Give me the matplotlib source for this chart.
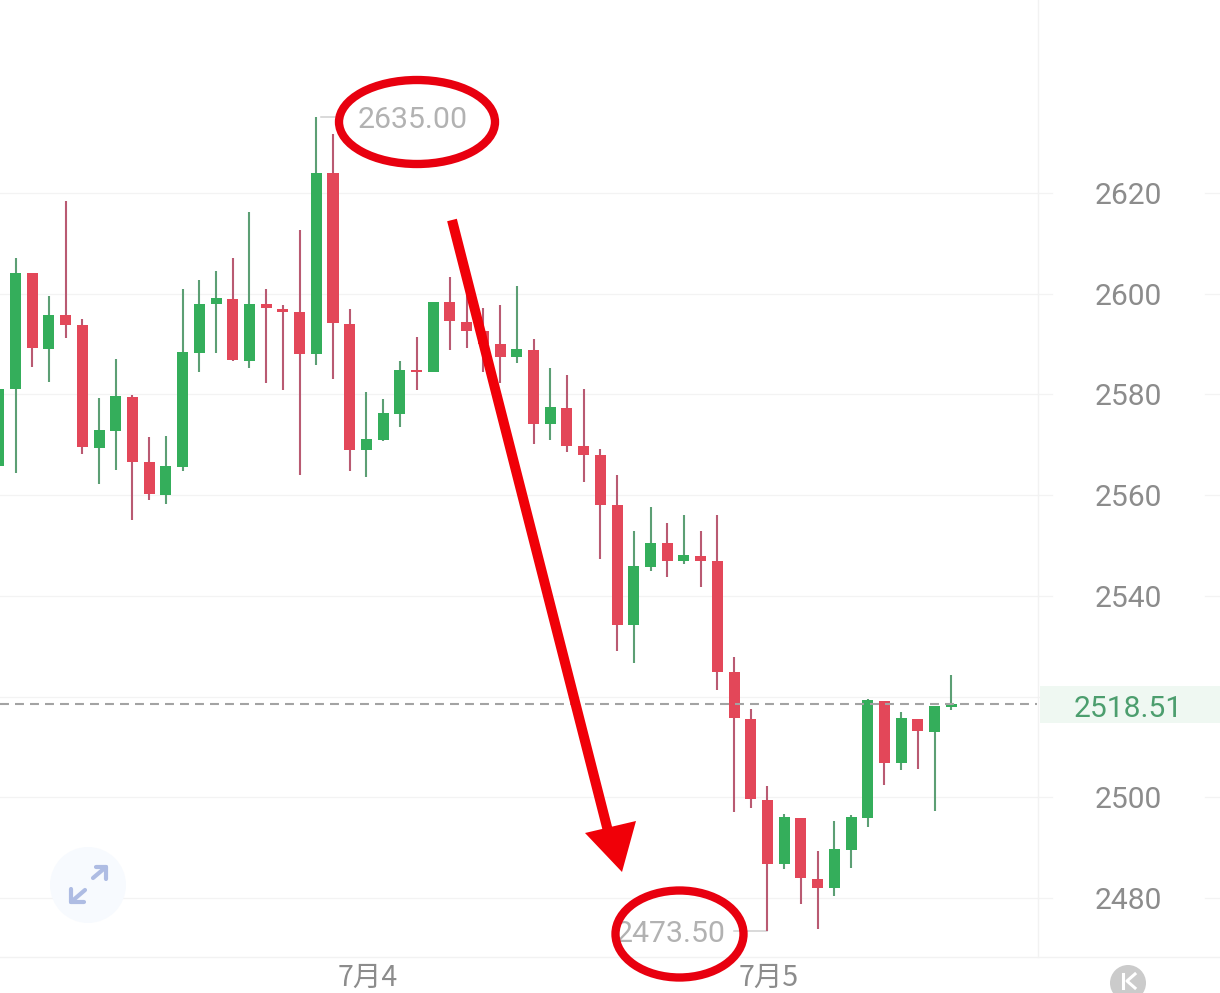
import matplotlib
matplotlib.use("Agg")
import matplotlib.pyplot as plt
from matplotlib.patches import Ellipse, Polygon, Circle, Rectangle

# candles, left to right (green = close above open)
opens = [2565.8, 2581.1, 2604.1, 2589.1, 2595.8, 2593.8, 2569.4, 2572.8, 2579.5, 2566.5,
         2560.1, 2565.6, 2588.2, 2598.0, 2599.0, 2586.7, 2598.0, 2597.0, 2596.3, 2588.0,
         2623.9, 2594.0, 2568.9, 2570.9, 2576.2, 2584.6, 2584.4, 2598.4, 2594.4, 2592.5,
         2590.0, 2587.4, 2588.9, 2574.1, 2577.4, 2569.8, 2568.0, 2558.0, 2534.2, 2545.8,
         2550.4, 2546.9, 2548.0, 2546.9, 2524.9, 2515.6, 2499.4, 2486.7, 2495.9, 2483.8,
         2481.9, 2489.6, 2495.9, 2519.2, 2506.8, 2515.5, 2513.0, 2518.0]
highs = [2581.1, 2607.1, 2604.1, 2599.5, 2618.4, 2595.0, 2579.3, 2587.0, 2579.9, 2571.5,
         2571.7, 2600.9, 2602.7, 2604.5, 2607.0, 2616.3, 2600.9, 2597.7, 2612.7, 2635.0,
         2631.7, 2597.0, 2580.5, 2579.1, 2586.6, 2591.5, 2598.4, 2603.3, 2600.5, 2597.1,
         2597.7, 2601.5, 2591.0, 2585.2, 2583.9, 2581.0, 2569.2, 2564.0, 2552.8, 2557.6,
         2554.4, 2556.0, 2552.9, 2556.1, 2527.8, 2517.6, 2502.3, 2496.7, 2495.9, 2489.4,
         2495.2, 2496.4, 2519.5, 2519.2, 2517.0, 2515.5, 2518.2, 2524.2]
lows = [2565.8, 2564.4, 2585.4, 2582.5, 2591.2, 2568.2, 2562.2, 2565.0, 2555.1, 2559.0,
        2558.2, 2564.8, 2584.5, 2588.2, 2586.6, 2585.2, 2582.2, 2580.8, 2563.9, 2585.8,
        2583.1, 2564.7, 2563.7, 2570.7, 2573.6, 2580.9, 2584.4, 2588.8, 2589.3, 2584.5,
        2582.3, 2586.2, 2570.1, 2571.0, 2568.6, 2562.7, 2547.3, 2529.0, 2526.7, 2544.9,
        2543.8, 2546.3, 2541.8, 2521.3, 2497.1, 2497.9, 2473.5, 2485.7, 2478.9, 2473.8,
        2480.4, 2486.0, 2494.1, 2502.5, 2505.5, 2505.6, 2497.3, 2517.3]
closes = [2581.1, 2604.2, 2589.2, 2595.8, 2593.8, 2569.5, 2572.9, 2579.6, 2566.6, 2560.2,
          2565.7, 2588.4, 2598.0, 2599.1, 2586.8, 2598.0, 2597.1, 2596.3, 2588.1, 2624.0,
          2594.1, 2569.0, 2571.1, 2576.3, 2584.8, 2584.5, 2598.4, 2594.5, 2592.5, 2590.0,
          2587.4, 2589.0, 2574.2, 2577.5, 2569.8, 2568.0, 2558.0, 2534.3, 2545.9, 2550.5,
          2547.0, 2548.1, 2546.9, 2524.9, 2515.7, 2499.6, 2486.7, 2496.1, 2483.9, 2482.0,
          2489.7, 2496.1, 2519.3, 2506.9, 2515.7, 2513.2, 2518.1, 2518.51]

price_ticks = [2480, 2500, 2520, 2540, 2560, 2580, 2600, 2620]
price_labels = ["2480", "2500", "", "2540", "2560", "2580", "2600", "2620"]
date_pos = [22.05, 46.05]
date_labels = ["7月4", "7月5"]
last_price = 2518.51
high_price = 2635.00
low_price = 2473.50

GREEN = "#34ae5b"
RED = "#e34759"
GREEN_WICK = "#5c9f74"
RED_WICK = "#b95a72"
FONT = ["Roboto", "Noto Sans CJK SC", "DejaVu Sans"]

fig = plt.figure(figsize=(12.2, 9.93), dpi=100)
ax = fig.add_axes([0, 0, 1, 1])
ax.set_xlim(0.072, 73.08)
ax.set_ylim(2461.14, 2658.32)
ax.axis("off")

# overlay in picture pixels for the hand drawn marks and app furniture
px = fig.add_axes([0, 0, 1, 1], facecolor="none")
px.set_xlim(0, 1220)
px.set_ylim(993, 0)
px.axis("off")

# grid and frame
for p in price_ticks:
    ax.plot([0.072, 63.0], [p, p], color="#f3f3f3", lw=0.9, zorder=1)
    ax.plot([72.2, 73.08], [p, p], color="#f3f3f3", lw=0.9, zorder=1)
px.plot([1037.5, 1037.5], [0, 957], color="#f2f2f2", lw=1.0, zorder=1)
px.plot([0, 1220], [957, 957], color="#f2f2f2", lw=1.0, zorder=1)

# candles
for i in range(len(opens)):
    up = closes[i] >= opens[i]
    ax.vlines(i, lows[i], highs[i], color=GREEN_WICK if up else RED_WICK, lw=1.5, zorder=3)
    bottom = min(opens[i], closes[i])
    height = max(abs(closes[i] - opens[i]), 0.35)
    ax.bar(i, height, 0.66, bottom=bottom, color=GREEN if up else RED, zorder=4)

# last price line and badge
ax.plot([0.072, 62.1], [last_price, last_price], color="#a3a3a3", lw=1.5,
        dashes=(4.3, 2.9), zorder=5)
ax.add_patch(Rectangle((62.3, 2514.8), 10.8, 7.4, color="#eff8f2", lw=0, zorder=2))
ax.text(67.6, last_price - 0.4, "%.2f" % last_price, color="#4c9e6e", fontsize=21.6,
        ha="center", va="center_baseline", family=FONT, zorder=6)

# axis labels
for p, lab in zip(price_ticks, price_labels):
    ax.text(67.6, p, lab, color="#8c8c8c", fontsize=21.6, ha="center", va="center_baseline",
            family=FONT, zorder=6)
for d, lab in zip(date_pos, date_labels):
    px.text(16.71 * d - 1.2, 978, lab, color="#8c8c8c", fontsize=20.5, ha="center", va="center",
            family=["Noto Sans CJK SC", "DejaVu Sans"], zorder=6)

# high and low labels
ax.plot([19.3, 20.5], [high_price, high_price], color="#cfcfcf", lw=1.1, zorder=2)
ax.text(21.5, high_price, "%.2f" % high_price, color="#b2b2b2", fontsize=21.8, ha="left",
        va="center_baseline", family=FONT, zorder=6)
ax.plot([44.0, 46.0], [low_price, low_price], color="#cfcfcf", lw=1.1, zorder=2)
ax.text(43.5, low_price, "%.2f" % low_price, color="#b2b2b2", fontsize=21.8, ha="right",
        va="center_baseline", family=FONT, zorder=6)

# red annotations
px.add_patch(Ellipse((417, 122), 156, 84, fill=False, ec="#e8000f", lw=6, zorder=8))
px.add_patch(Ellipse((679.5, 934), 128, 87, fill=False, ec="#e8000f", lw=6, zorder=8))
px.plot([452, 609], [220, 835], color="#f00008", lw=7.2, solid_capstyle="butt", zorder=8)
px.add_patch(Polygon([(585, 833), (636, 821), (622, 872)], color="#f00008", lw=0, zorder=8))

# expand button
px.add_patch(Circle((88, 885), 38, color="#f7fafe", lw=0, zorder=2))
for pts in ([(93, 878), (106, 867)], [(96, 867), (106, 867), (106, 879)],
            [(85, 890), (71, 902)], [(71, 889), (71, 902), (84, 902)]):
    xs, ys = zip(*pts)
    px.plot(xs, ys, color="#aebce3", lw=3, solid_capstyle="round", zorder=3)

# back to latest button
px.add_patch(Circle((1128, 983), 18, color="#cbcbcb", lw=0, zorder=3))
px.plot([1123, 1123], [974, 988], color="white", lw=2.2, zorder=4)
px.plot([1135, 1127, 1135], [974, 981, 988], color="white", lw=2.2, zorder=4)

fig.savefig("out.png", dpi=100)
